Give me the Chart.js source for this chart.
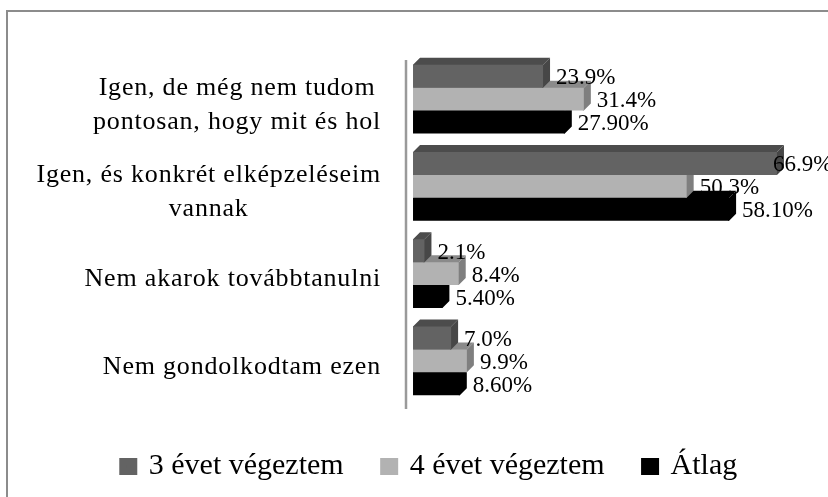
<!DOCTYPE html>
<html>
<head>
<meta charset="utf-8">
<script src="https://cdn.jsdelivr.net/npm/chart.js@4"></script>
<style>
html, body { margin: 0; padding: 0; background: #fff; }
#wrap { position: relative; width: 828px; height: 497px; overflow: hidden; }
#frame { position: absolute; left: 6px; top: 10px; right: 0; bottom: 0; border-left: 2px solid #8c8c8c; border-top: 2px solid #8c8c8c; pointer-events: none; }
</style>
</head>
<body>
<div id="wrap">
<canvas id="chart" width="828" height="497"></canvas>
<div id="frame"></div>
</div>
<script>
const categories = [
    ['Igen, de még nem tudom', 'pontosan, hogy mit és hol'],
    ['Igen, és konkrét elképzeléseim', 'vannak'],
    ['Nem akarok továbbtanulni'],
    ['Nem gondolkodtam ezen'],
];
const seriesNames = ['3 évet végeztem', '4 évet végeztem', 'Átlag'];
const threeYears = [23.9, 66.9, 2.1, 7.0];
const fourYears = [31.4, 50.3, 8.4, 9.9];
const average = [27.9, 58.1, 5.4, 8.6];
const threeYearLabels = ['23.9%', '66.9%', '2.1%', '7.0%'];
const fourYearLabels = ['31.4%', '50.3%', '8.4%', '9.9%'];
const averageLabels = ['27.90%', '58.10%', '5.40%', '8.60%'];

const FONT = '"Liberation Serif", serif';
const DEPTH = 7;

// front, top and side colours of the fake 3D bars
const faces = [
    { front: '#636363', top: '#4c4c4c', side: '#474747', labels: threeYearLabels },
    { front: '#b2b2b2', top: '#8a8a8a', side: '#7f7f7f', labels: fourYearLabels },
    { front: '#000000', top: '#000000', side: '#000000', labels: averageLabels },
];

function fillPoly(ctx, pts, color) {
    ctx.fillStyle = color;
    ctx.beginPath();
    pts.forEach((p, i) => (i ? ctx.lineTo(p[0], p[1]) : ctx.moveTo(p[0], p[1])));
    ctx.closePath();
    ctx.fill();
}

const depthPlugin = {
    id: 'depth',
    beforeDatasetDraw(chart, args) {
        const ctx = chart.ctx;
        const face = faces[args.index];
        args.meta.data.forEach(bar => {
            const h = bar.height / 2;
            const l = bar.base, r = bar.x, t = bar.y - h, b = bar.y + h;
            // faces run 1px under the front so no seam shows
            fillPoly(ctx, [[l, t + 1], [l, t], [l + DEPTH, t - DEPTH], [r + DEPTH, t - DEPTH], [r, t], [r, t + 1]], face.top);
            fillPoly(ctx, [[r - 1, t], [r, t], [r + DEPTH, t - DEPTH], [r + DEPTH, b - DEPTH], [r, b], [r - 1, b]], face.side);
        });
    },
};

const textPlugin = {
    id: 'texts',
    afterDatasetsDraw(chart) {
        const ctx = chart.ctx;
        const area = chart.chartArea;
        ctx.save();

        // axis line sits a little below the category band, as on the 3D wall
        ctx.strokeStyle = '#9a9a9a';
        ctx.lineWidth = 2.5;
        ctx.beginPath();
        ctx.moveTo(area.left, area.top + 4.5);
        ctx.lineTo(area.left, area.bottom + 4.5);
        ctx.stroke();

        // category labels: block ends near the axis, lines centred inside it
        const yScale = chart.scales.y;
        ctx.font = '26px ' + FONT;
        ctx.fillStyle = '#000';
        ctx.textBaseline = 'middle';
        ctx.textAlign = 'center';
        ctx.letterSpacing = '0.8px';
        categories.forEach((lines, i) => {
            const w = Math.max(...lines.map(s => ctx.measureText(s).width));
            const cx = 381 - w / 2;
            const cy = yScale.getPixelForTick(i) + 6;
            lines.forEach((s, j) => {
                ctx.fillText(s, cx, cy + (j - (lines.length - 1) / 2) * 34);
            });
        });

        // value labels next to each bar, pulled back when they hit the edge
        ctx.font = '23px ' + FONT;
        ctx.textAlign = 'left';
        ctx.letterSpacing = '0px';
        faces.forEach((face, d) => {
            chart.getDatasetMeta(d).data.forEach((bar, i) => {
                ctx.fillText(face.labels[i], Math.min(bar.x + 13, 773), bar.y + 2);
            });
        });
        ctx.restore();
    },
};

new Chart(document.getElementById('chart'), {
    type: 'bar',
    data: {
        labels: categories,
        datasets: [
            { label: seriesNames[0], data: threeYears, backgroundColor: faces[0].front },
            { label: seriesNames[1], data: fourYears, backgroundColor: faces[1].front },
            { label: seriesNames[2], data: average, backgroundColor: faces[2].front },
        ],
    },
    options: {
        indexAxis: 'y',
        responsive: false,
        animation: false,
        categoryPercentage: 0.79,
        barPercentage: 1,
        layout: { padding: { left: 32, top: 55.5, bottom: 5.5, right: 0 } },
        scales: {
            x: {
                min: -1.29,
                max: 76.28,
                afterFit(scale) {
                    scale.height = 7;
                },
                grid: { display: false, drawTicks: false },
                border: { display: false },
                ticks: { display: false },
            },
            y: {
                afterFit(scale) {
                    scale.width = 374;
                },
                grid: { display: false, drawTicks: false },
                border: { display: false },
                ticks: { display: false },
            },
        },
        plugins: {
            legend: {
                position: 'bottom',
                labels: {
                    boxWidth: 11,
                    boxHeight: 10,
                    padding: 40,
                    color: '#000',
                    font: { family: FONT, size: 30 },
                    // thick same-colour outline keeps the swatch big but the text close
                    generateLabels(chart) {
                        return chart.data.datasets.map((ds, i) => ({
                            text: ds.label,
                            fillStyle: ds.backgroundColor,
                            strokeStyle: ds.backgroundColor,
                            lineWidth: 7,
                            datasetIndex: i,
                        }));
                    },
                },
            },
            tooltip: { enabled: false },
        },
    },
    plugins: [depthPlugin, textPlugin],
});
</script>
</body>
</html>
